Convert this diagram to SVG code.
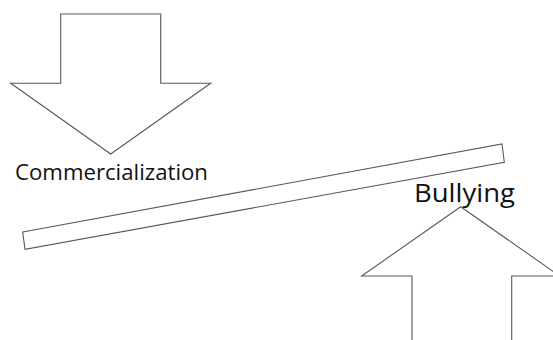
<svg xmlns="http://www.w3.org/2000/svg" width="553" height="340" viewBox="0 0 553 340">
<style>
.shape{fill:#fff;stroke:#595959;stroke-width:1.1;stroke-linejoin:miter}
.lbl{font-family:"Open Sans","Liberation Sans",sans-serif;fill:#111}
</style>
<rect width="553" height="340" fill="#fff"/>
<g id="arrow-down">
<polygon class="shape" points="60.7,14 160.7,14 160.7,83.3 210.7,83.3 110.7,154 10.7,83.3 60.7,83.3"/>
</g>
<g id="arrow-up">
<polygon class="shape" points="412,345 412,276 361.7,276 460.7,206.7 559.7,276 511.7,276 511.7,345"/>
</g>
<g id="plank">
<polygon class="shape" points="22.7,232 502,144 504.3,162.3 25,249.3"/>
</g>
<g id="label-commercialization">
<text class="lbl" x="15" y="180" font-size="22" textLength="193" lengthAdjust="spacingAndGlyphs">Commercialization</text>
</g>
<g id="label-bullying">
<text class="lbl" x="414" y="201.5" font-size="26" textLength="101" lengthAdjust="spacingAndGlyphs">Bullying</text>
</g>
<g id="connectors"></g>
</svg>
